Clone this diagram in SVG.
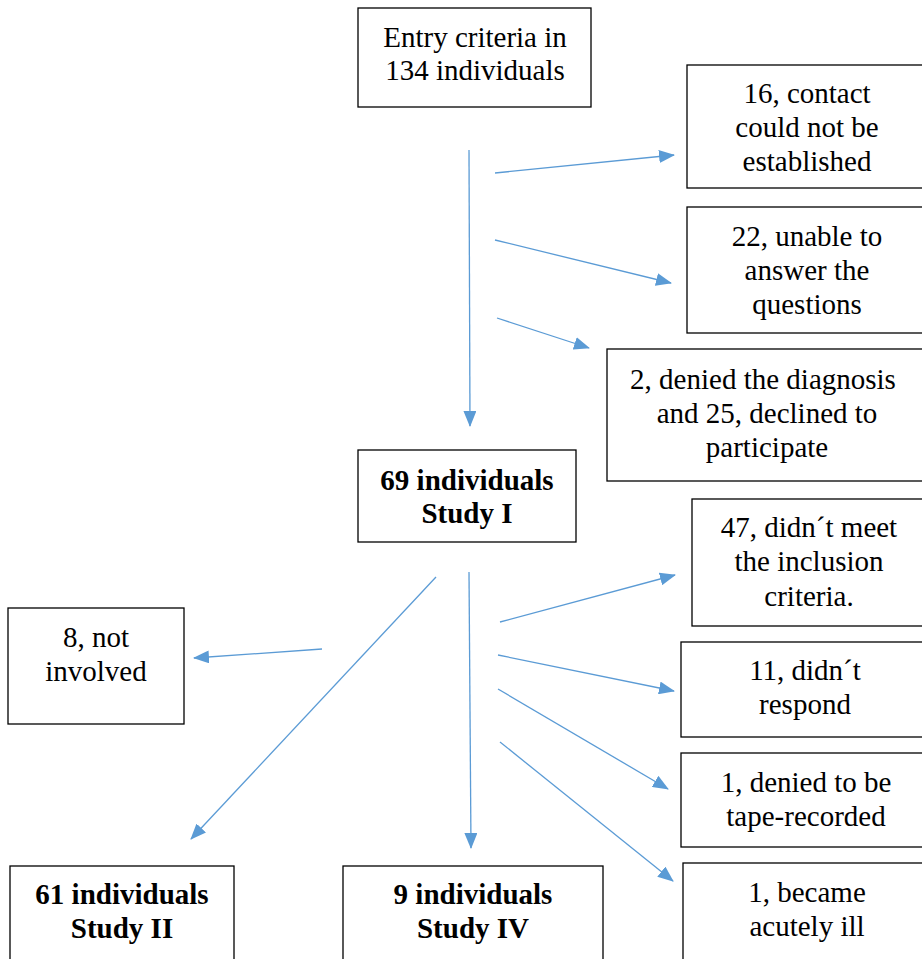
<svg xmlns="http://www.w3.org/2000/svg" width="922" height="959" viewBox="0 0 922 959">
<style>
.box{fill:#fff;stroke:#000;stroke-width:1.3}
.t{font-family:"Liberation Serif","Times New Roman",serif;font-size:29px;fill:#000;text-anchor:middle}
.b{font-weight:bold}
.c{stroke:#5B9BD5;stroke-width:1.3;fill:none;marker-end:url(#ah)}
</style>
<defs>
<marker id="ah" markerWidth="16" markerHeight="13" refX="15" refY="6.5" orient="auto" markerUnits="userSpaceOnUse">
<path d="M0,0 L16,6.5 L0,13 Z" fill="#5B9BD5"/>
</marker>
</defs>
<rect width="922" height="959" fill="#fff"/>
<g id="n-entry"><rect class="box" x="358" y="8" width="233" height="99"/><text class="t" x="475" y="47">Entry criteria in</text><text class="t" x="475" y="80">134 individuals</text></g>
<g id="n-16"><rect class="box" x="687" y="65" width="245" height="123"/><text class="t" x="807" y="103">16, contact</text><text class="t" x="807" y="137">could not be</text><text class="t" x="807" y="171">established</text></g>
<g id="n-22"><rect class="box" x="687" y="207" width="245" height="126"/><text class="t" x="807" y="246">22, unable to</text><text class="t" x="807" y="280">answer the</text><text class="t" x="807" y="314">questions</text></g>
<g id="n-2"><rect class="box" x="607" y="349" width="325" height="132"/><text class="t" x="763" y="389">2, denied the diagnosis</text><text class="t" x="767" y="423">and 25, declined to</text><text class="t" x="767" y="457">participate</text></g>
<g id="n-study1"><rect class="box" x="358" y="450" width="218" height="92"/><text class="t b" x="467" y="490">69 individuals</text><text class="t b" x="467" y="523">Study I</text></g>
<g id="n-47"><rect class="box" x="692" y="499" width="240" height="127"/><text class="t" x="809" y="537">47, didn´t meet</text><text class="t" x="809" y="571">the inclusion</text><text class="t" x="809" y="606">criteria.</text></g>
<g id="n-11"><rect class="box" x="681" y="642" width="251" height="95"/><text class="t" x="805" y="680">11, didn´t</text><text class="t" x="805" y="714">respond</text></g>
<g id="n-tape"><rect class="box" x="681" y="753" width="251" height="94"/><text class="t" x="806" y="792">1, denied to be</text><text class="t" x="806" y="826">tape-recorded</text></g>
<g id="n-ill"><rect class="box" x="683" y="863" width="249" height="110"/><text class="t" x="807" y="902">1, became</text><text class="t" x="807" y="936">acutely ill</text></g>
<g id="n-8"><rect class="box" x="8" y="608" width="176" height="116"/><text class="t" x="96" y="647">8, not</text><text class="t" x="96" y="681">involved</text></g>
<g id="n-study2"><rect class="box" x="10" y="866" width="224" height="110"/><text class="t b" x="122" y="904">61 individuals</text><text class="t b" x="122" y="938">Study II</text></g>
<g id="n-study4"><rect class="box" x="343" y="866" width="260" height="110"/><text class="t b" x="473" y="904">9 individuals</text><text class="t b" x="473" y="938">Study IV</text></g>
<g id="connectors">
<line class="c" x1="469" y1="150" x2="470" y2="426"/>
<line class="c" x1="495" y1="173" x2="674" y2="155"/>
<line class="c" x1="495" y1="240" x2="671" y2="283"/>
<line class="c" x1="497" y1="318" x2="589" y2="348"/>
<line class="c" x1="436" y1="577" x2="191" y2="839"/>
<line class="c" x1="469" y1="572" x2="471" y2="848"/>
<line class="c" x1="322" y1="649" x2="194" y2="658"/>
<line class="c" x1="500" y1="622" x2="675" y2="575"/>
<line class="c" x1="498" y1="655" x2="674" y2="691"/>
<line class="c" x1="498" y1="689" x2="668" y2="789"/>
<line class="c" x1="500" y1="742" x2="673" y2="881"/>
</g>
</svg>
